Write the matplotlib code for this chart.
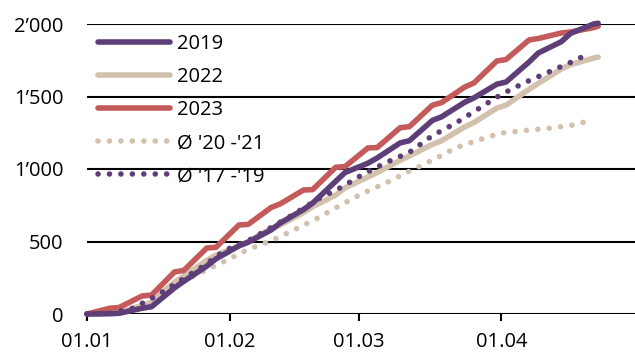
"""
Cumulative count since 01.01: 2019, 2022, 2023 and multi-year averages.
"""

import matplotlib
matplotlib.use('Agg')
import matplotlib.pyplot as plt

# day offsets from 01.01 (Fri / Sun points give the weekly steps)
SOLID_DAYS = [0, 5, 7, 12, 14, 19, 21, 26, 28, 33, 35, 40, 42, 47, 49, 54, 56,
              61, 63, 68, 70, 75, 77, 82, 84, 89, 91, 96, 98, 103, 105, 110, 111]
Y2019 = [0, 2, 5, 40, 50, 180, 225, 330, 380, 470, 495, 580, 628, 720, 765,
         915, 975, 1040, 1076, 1180, 1195, 1335, 1360, 1460, 1490, 1585, 1600,
         1738, 1800, 1878, 1935, 2000, 2005]
Y2022 = [0, 5, 10, 60, 80, 220, 260, 370, 405, 470, 500, 590, 614, 700, 740,
         820, 870, 945, 975, 1060, 1090, 1170, 1195, 1290, 1320, 1420, 1440,
         1550, 1590, 1690, 1720, 1765, 1772]
Y2023 = [0, 40, 45, 125, 130, 290, 300, 455, 460, 614, 618, 735, 760, 855, 858,
         1012, 1016, 1145, 1148, 1285, 1292, 1440, 1458, 1565, 1593, 1745, 1755,
         1890, 1900, 1938, 1945, 1975, 1985]

AVG_DAYS = [0, 5, 10, 15, 20, 25, 30, 35, 40, 45, 50, 55, 60, 65, 70, 75, 80,
            85, 90, 95, 100, 105, 109]
AVG_20_21 = [0, 5, 35, 110, 210, 290, 365, 445, 505, 580, 660, 750, 834, 905,
             985, 1060, 1145, 1200, 1248, 1265, 1280, 1300, 1331]
AVG_17_19 = [0, 5, 40, 124, 225, 325, 440, 505, 597, 690, 790, 870, 965, 1045,
             1115, 1230, 1315, 1415, 1515, 1595, 1665, 1735, 1795]

TICK_DAYS = [0, 31, 59, 90]
TICK_LABELS = ['01.01', '01.02', '01.03', '01.04']
Y_TICKS = [0, 500, 1000, 1500, 2000]
Y_LABELS = ['0', '500', '1\u2019000', '1\u2019500', '2\u2019000']

PURPLE = '#5e3e78'
BEIGE = '#d2c1ac'
RED = '#c45b5a'

plt.rcParams['font.family'] = ['Open Sans', 'DejaVu Sans']
plt.rcParams['font.size'] = 14.5

fig = plt.figure(figsize=(6.35, 3.54), dpi=100)
ax = fig.add_axes([87 / 635, 1 - 314 / 354, 548 / 635, 290 / 354])

lw = 4.0
dots = (0, (0.01, 2.05))
ax.plot(AVG_DAYS, AVG_20_21, color=BEIGE, lw=lw, linestyle=dots,
        dash_capstyle='round', label="\u00d8 '20 -'21", clip_on=False)
ax.plot(SOLID_DAYS, Y2022, color=BEIGE, lw=lw, label='2022',
        solid_capstyle='round', clip_on=False)
ax.plot(SOLID_DAYS, Y2023, color=RED, lw=lw, label='2023',
        solid_capstyle='round', clip_on=False)
ax.plot(SOLID_DAYS, Y2019, color=PURPLE, lw=lw, label='2019',
        solid_capstyle='round', clip_on=False)
ax.plot(AVG_DAYS, AVG_17_19, color=PURPLE, lw=lw, linestyle=dots,
        dash_capstyle='round', label="\u00d8 '17 -'19", clip_on=False)

ax.set_xlim(0, 119)
ax.set_ylim(0, 2000)
ax.set_xticks(TICK_DAYS)
ax.set_xticklabels(TICK_LABELS)
ax.set_yticks(Y_TICKS)
ax.set_yticklabels(Y_LABELS)

for y in Y_TICKS:
    ax.axhline(y, color='black', lw=1.5, zorder=0)
for s in ax.spines.values():
    s.set_visible(False)
ax.tick_params(axis='y', length=0, pad=17)
ax.tick_params(axis='x', length=5, width=1.5, pad=8, direction='out')

# legend order as in the reference
handles, labels = ax.get_legend_handles_labels()
order = [labels.index(k) for k in ['2019', '2022', '2023', "\u00d8 '20 -'21", "\u00d8 '17 -'19"]]
ax.legend([handles[i] for i in order], [labels[i] for i in order],
          loc='upper left', bbox_to_anchor=(0.02, 0.966), frameon=False,
          borderpad=0, borderaxespad=0, handlelength=3.6, handletextpad=0.3,
          labelspacing=0.65)

plt.savefig('out.png', dpi=100)
plt.close()
